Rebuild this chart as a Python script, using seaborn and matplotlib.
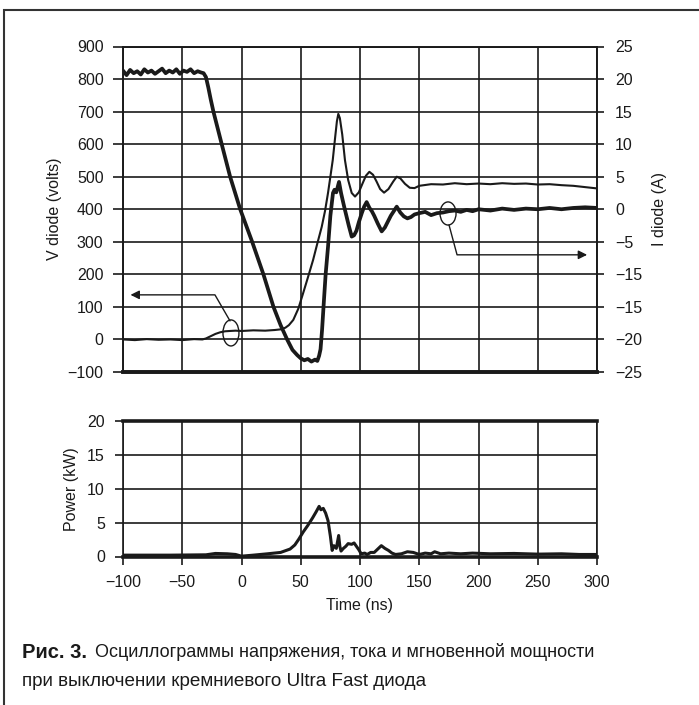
import matplotlib
matplotlib.use("Agg")
import matplotlib.pyplot as plt
import numpy as np
import seaborn as sns
from matplotlib.patches import Ellipse, Rectangle

# diode voltage (V), left axis of top panel
v_time = [-100, -90, -80, -70, -60, -50, -40, -33, -30, -26, -22, -18, -14, -10, -5, 0, 10, 20,
          28, 33, 37, 40, 43.7, 48, 52, 56, 60.4, 64, 67.7, 70.5, 73, 75, 77, 79, 80.5, 81.7,
          83, 85, 87.3, 90, 93, 95.8, 99, 102, 105, 107.9, 111, 114, 117, 120.3, 124, 128, 131,
          134, 138, 142, 146, 150, 160, 170, 180, 190, 200, 210, 220, 230, 240, 250, 260, 270,
          280, 290, 300]
v_diode = [0, -2, 1, -1, 0, -2, 1, 0, 3, 10, 17, 22, 25, 26, 27, 26, 28, 27,
           29, 31, 36, 44, 60, 95, 142, 190, 244, 295, 346, 395, 450, 500, 551, 620, 670, 693,
           680, 630, 551, 490, 450, 439, 452, 478, 503, 515, 506, 485, 462, 451, 462, 485, 500,
           495, 478, 466, 465, 472, 477, 476, 480, 477, 479, 477, 480, 478, 479, 476, 477, 474,
           472, 468, 464]

# diode current (A), right axis of top panel
i_time = [-100, -97, -94, -91, -88, -85, -82, -79, -76, -73, -70, -67, -64, -61, -58, -55, -52,
          -49, -46, -43, -40, -37, -34, -32, -30, -28, -26, -23.7, -16.7, -9.6, -1.1, 9, 18.5,
          27, 33, 38.5, 43, 47, 50, 53, 56, 59, 62, 64, 65.5, 66.7, 68, 69.6, 71, 73, 75, 77.2,
          78.5, 80, 82.3, 84, 86.5, 88.5, 90.5, 93, 95, 97, 99, 101.5, 103.5, 105.6, 108, 110,
          112, 115, 118.3, 121, 123.5, 126, 128.5, 131, 134, 137, 140, 143, 146, 150, 155, 160,
          165, 170, 175, 180, 185, 190, 195, 200, 210, 220, 230, 240, 250, 260, 270, 280, 290, 300]
i_diode = [21.3, 20.6, 21.4, 20.9, 21.2, 20.7, 21.5, 21.0, 21.3, 20.8, 21.2, 21.6, 20.9, 21.3,
           21.0, 21.5, 20.8, 21.3, 21.1, 21.5, 20.9, 21.2, 21.0, 20.9, 20.3, 18.7, 16.9, 15.0,
           10.0, 5.0, 0.0, -5.0, -10.0, -15.0, -17.8, -20.0, -21.6, -22.4, -22.9, -23.2, -23.0,
           -23.4, -23.1, -23.3, -22.5, -21.5, -18.5, -13.9, -10.0, -5.8, -1.0, 2.5, 3.0, 2.6,
           4.2, 2.5, 0.5, -1.0, -2.5, -4.2, -4.0, -3.3, -2.0, -0.6, 0.4, 1.1, 0.2, -0.3, -1.0,
           -2.2, -3.4, -2.8, -1.9, -1.0, -0.3, 0.4, -0.5, -1.1, -1.4, -1.2, -0.8, -0.6, -0.4,
           -0.9, -0.6, -0.5, -0.3, -0.2, -0.4, -0.1, -0.3, 0.0, -0.2, 0.1, -0.1, 0.1, 0.0, 0.2,
           0.0, 0.2, 0.3, 0.2]

# instantaneous power (kW), bottom panel
p_time = [-100, -60, -30, -22, -12, -5, 0, 10, 22, 33, 41, 45, 48.5, 52, 56, 60, 63, 65.5, 67,
          69, 71, 73, 75, 76.5, 78, 80, 82, 83, 84, 86, 88, 90, 93, 95, 97, 99, 101, 104, 106,
          109, 112, 115, 118, 121, 124, 127, 130, 135, 140, 145, 150, 155, 160, 163, 168, 175,
          185, 195, 210, 230, 250, 270, 285, 300]
power_kw = [0.2, 0.2, 0.25, 0.45, 0.4, 0.3, 0.05, 0.2, 0.4, 0.6, 1.1, 1.7, 2.6, 3.6, 4.6, 5.7,
            6.6, 7.4, 6.9, 7.1, 6.4, 5.3, 3.0, 0.9, 1.6, 1.2, 3.1, 1.5, 0.8, 1.2, 1.5, 1.9, 1.8,
            2.0, 1.5, 1.0, 0.4, 0.5, 0.3, 0.6, 0.6, 1.1, 1.6, 1.2, 0.9, 0.5, 0.3, 0.4, 0.7, 0.6,
            0.3, 0.5, 0.4, 0.7, 0.4, 0.5, 0.4, 0.5, 0.4, 0.45, 0.35, 0.4, 0.3, 0.3]

time_ticks = [-100, -50, 0, 50, 100, 150, 200, 250, 300]
v_ticks = [-100, 0, 100, 200, 300, 400, 500, 600, 700, 800, 900]
i_ticks = [-25, -20, -15, -10, -5, 0, 5, 10, 15, 20, 25]
i_ticklabels = ["\u221225", "\u221220", "\u221215", "\u221215", "\u22125", "0", "5", "10", "15", "20", "25"]
p_ticks = [0, 5, 10, 15, 20]

caption_bold = "Рис. 3."
caption_line1 = "Осциллограммы напряжения, тока и мгновенной мощности"
caption_line2 = "при выключении кремниевого Ultra Fast диода"

sns.set_style("ticks")
plt.rcParams["font.family"] = ["Liberation Sans", "DejaVu Sans"]
plt.rcParams["axes.unicode_minus"] = True

W, H = 699, 705
fig = plt.figure(figsize=(W / 100, H / 100), dpi=100)
fig.patch.set_facecolor("white")

ax1 = fig.add_axes([123 / W, 1 - 372 / H, 474 / W, 325.5 / H])
ax2 = fig.add_axes([123 / W, 1 - 556.5 / H, 474 / W, 135.5 / H])
axr = ax1.twinx()

ink = "#1a1a1a"
grid_kw = dict(color=ink, linewidth=1.2)

# --- top panel ---
sns.lineplot(x=v_time, y=v_diode, ax=ax1, color=ink, linewidth=1.5, estimator=None, sort=False)
sns.lineplot(x=i_time, y=i_diode, ax=axr, color=ink, linewidth=2.7, estimator=None, sort=False)

ax1.set_xlim(-100, 300)
ax1.set_ylim(-100, 900)
axr.set_ylim(-25, 25)
ax1.set_xticks(time_ticks)
ax1.set_yticks(v_ticks)
ax1.grid(True, **grid_kw)
ax1.tick_params(axis="x", length=0, labelbottom=False)
ax1.tick_params(axis="y", direction="out", length=7, width=1.2, pad=7, labelsize=11.5, colors=ink)
ax1.set_ylabel("V diode (volts)", fontsize=11.5, labelpad=4, color=ink)
ax1.set_xlabel("")

axr.set_yticks(i_ticks)
axr.set_yticklabels(i_ticklabels)
axr.tick_params(axis="y", direction="out", length=5, width=1.2, pad=8, labelsize=11.5, colors=ink)
axr.set_ylabel("I diode (A)", fontsize=11.5, labelpad=7, color=ink)

for ax in (ax1, axr):
    for side in ("left", "right", "top"):
        ax.spines[side].set_linewidth(1.2)
        ax.spines[side].set_color(ink)
    ax.spines["bottom"].set_linewidth(2.6)
    ax.spines["bottom"].set_color(ink)

# markers showing which axis each trace belongs to
ax1.add_patch(Ellipse((-8.9, 20), 13.5, 80, fill=False, edgecolor=ink, linewidth=1.0, zorder=5))
ax1.plot([-9.7, -22.4, -92], [57, 137, 137], color=ink, linewidth=1.0)
ax1.annotate("", xy=(-96, 137), xytext=(-88, 137),
             arrowprops=dict(arrowstyle="-|>", color=ink, lw=1.0, mutation_scale=13))
ax1.add_patch(Ellipse((174.3, 387), 13.5, 71, fill=False, edgecolor=ink, linewidth=1.0, zorder=5))
ax1.plot([175.1, 181.9, 290], [352, 260, 260], color=ink, linewidth=1.0)
ax1.annotate("", xy=(294, 260), xytext=(286, 260),
             arrowprops=dict(arrowstyle="-|>", color=ink, lw=1.0, mutation_scale=13))

# --- bottom panel ---
sns.lineplot(x=p_time, y=power_kw, ax=ax2, color=ink, linewidth=2.2, estimator=None, sort=False)
ax2.set_xlim(-100, 300)
ax2.set_ylim(0, 20)
ax2.set_xticks(time_ticks)
ax2.set_yticks(p_ticks)
ax2.grid(True, **grid_kw)
ax2.tick_params(axis="both", direction="out", length=6, width=1.2, pad=7, labelsize=11.5, colors=ink)
ax2.set_ylabel("Power (kW)", fontsize=11.5, labelpad=6, color=ink)
ax2.set_xlabel("Time (ns)", fontsize=11.5, labelpad=6, color=ink)
for side in ("left", "right"):
    ax2.spines[side].set_linewidth(1.2)
    ax2.spines[side].set_color(ink)
for side in ("top", "bottom"):
    ax2.spines[side].set_linewidth(2.6)
    ax2.spines[side].set_color(ink)

# outer frame
fig.add_artist(Rectangle((4 / W, -0.1), 1.2, 1 - 10 / H + 0.1, transform=fig.transFigure,
                         fill=False, edgecolor="#333333", linewidth=1.5))

# caption: bold figure number, then the regular text right after it
t_bold = fig.text(22 / W, 1 - 652 / H, caption_bold, fontsize=14.5, fontweight="bold",
                  va="center", ha="left", color=ink)
fig.canvas.draw()
bb = t_bold.get_window_extent()
fig.text((bb.x1 + 8) / W, 1 - 652 / H, caption_line1, fontsize=13, va="center", ha="left", color=ink)
fig.text(22 / W, 1 - 682 / H, caption_line2, fontsize=13.6, va="center", ha="left", color=ink)

fig.savefig("out.png", dpi=100)
plt.close(fig)
